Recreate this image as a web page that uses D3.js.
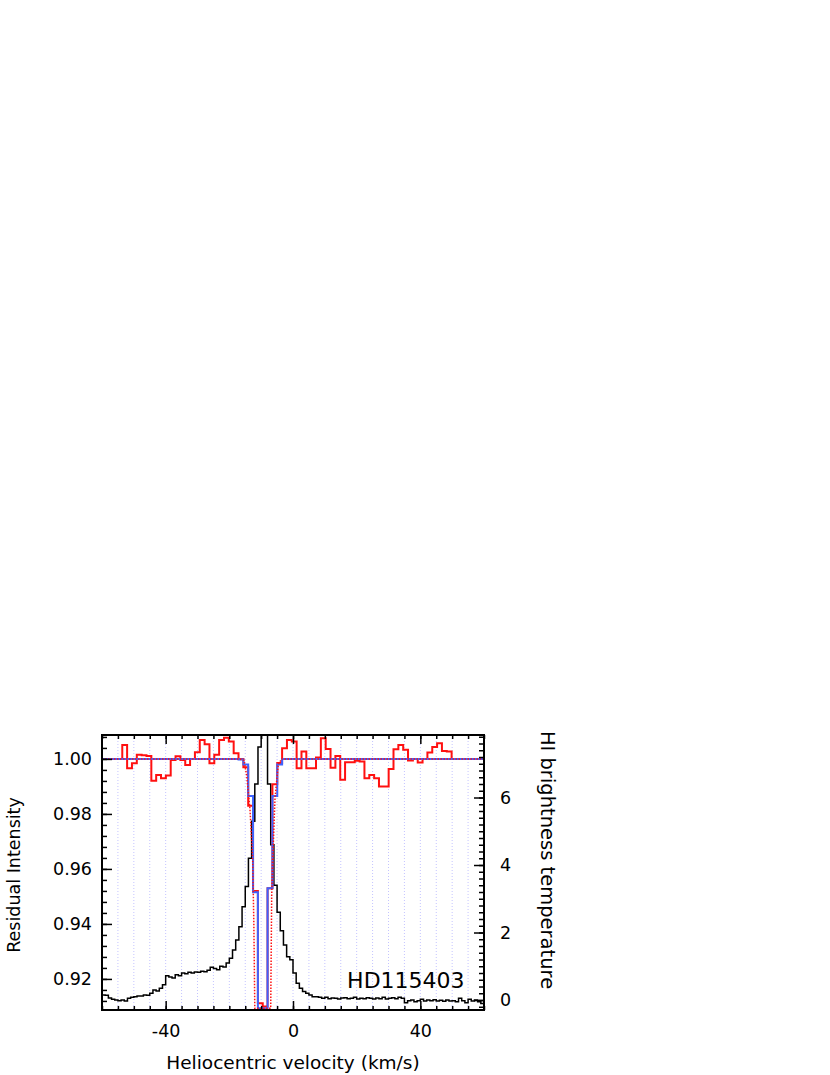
<!DOCTYPE html>
<html>
<head>
<meta charset="utf-8">
<script src="https://cdn.jsdelivr.net/npm/d3@7"></script>
<style>
  body { margin: 0; background: #fff; }
  text { font-family: "DejaVu Sans", sans-serif; }
</style>
</head>
<body>
<svg id="chart" width="830" height="1075"></svg>
<script>
// ---- data ----
const xTickLabels = [-40, 0, 40];
const leftTickLabels = [0.92, 0.94, 0.96, 0.98, 1.00];
const rightTickLabels = [0, 2, 4, 6];
const gridVelocities = [-55, -50, -45, -40, -35, -30, -25, -20, -15, -10, -5, 0, 5, 10, 15, 20, 25, 30, 35, 40, 45, 50, 55];

// HI 21cm profile, 1 km/s channels starting at -60 km/s (brightness temperature, K)
const hiStart = -60, hiWidth = 1.0;
const hiTemp = [
  0.15, 0.14, 0.06, 0.02, 0.00, -0.02, 0.00, -0.03, 0.05, 0.08,
  0.10, 0.12, 0.12, 0.15, 0.14, 0.20, 0.30, 0.27, 0.35, 0.45,
  0.72, 0.68, 0.65, 0.75, 0.72, 0.80, 0.78, 0.82, 0.80, 0.83,
  0.82, 0.85, 0.84, 0.88, 0.97, 0.93, 0.90, 1.00, 0.98, 1.10,
  1.24, 1.48, 1.78, 2.17, 2.76, 3.36, 4.20, 5.30, 6.40, 7.50,
  8.80, 8.50, 6.40, 4.60, 3.40, 2.60, 2.05, 1.63, 1.28, 1.19,
  0.80, 0.50, 0.35, 0.25, 0.20, 0.15, 0.10, 0.10, 0.08, 0.05,
  0.08, 0.04, 0.06, 0.05, 0.03, 0.06, 0.07, 0.04, 0.05, 0.08,
  0.03, 0.05, 0.04, 0.07, 0.05, 0.03, 0.06, 0.04, 0.08, 0.03,
  0.05, 0.07, 0.04, 0.08, 0.05, -0.08, -0.02, 0.00, -0.05, -0.02,
  0.02, -0.03, 0.00, -0.02, 0.01, -0.03, -0.01, -0.04, 0.00, -0.03,
  -0.02, -0.05, 0.05, -0.02, -0.08, 0.02, -0.03, 0.00, -0.05, -0.10
];

// optical spectrum bins (residual intensity)
const binStart = -61.24, binWidth = 1.5215;
const observed = [
  1.0000, 1.0000, 1.0000, 1.0000, 1.0000,
  1.0051, 0.9966, 0.9984, 1.0015, 1.0013, 1.0011, 0.9921, 0.9942, 0.9930, 0.9940,
  0.9996, 1.0010, 0.9996, 0.9978, 1.0000, 1.0024, 1.0069, 1.0053, 0.9984, 1.0015,
  1.0069, 1.0077, 1.0063, 1.0021, 1.0000, 0.9970, 0.9830, 0.9520, 0.9112, 0.9100,
  0.9530, 0.9908, 0.9985, 1.0039, 1.0069, 1.0063, 0.9966, 1.0027, 0.9966, 0.9966,
  1.0005, 1.0075, 1.0036, 0.9968, 1.0011, 0.9924, 0.9988, 0.9988, 0.9993, 0.9991,
  0.9930, 0.9942, 0.9930, 0.9900, 0.9900, 0.9963, 1.0035, 1.0051, 1.0033, 0.9994,
  1.0000, 0.9987, 1.0000, 1.0023, 1.0043, 1.0057, 1.0029, 1.0027,
  1.0000, 1.0000, 1.0000, 1.0000, 1.0000, 1.0000, 1.0000
];
const modelBinned = [
  1, 1, 1, 1, 1,
  1, 1, 1, 1, 1, 1, 1, 1, 1, 1,
  1, 1, 1, 1, 1, 1, 1, 1, 1, 1,
  1, 1, 1, 1, 0.9998, 0.9980, 0.9865, 0.9515, 0.9093, 0.9093,
  0.9530, 0.9865, 0.9980, 1, 1, 1, 1, 1, 1, 1,
  1, 1, 1, 1, 1, 1, 1, 1, 1, 1,
  1, 1, 1, 1, 1, 1, 1, 1, 1, 1,
  1, 1, 1, 1, 1, 1, 1, 1,
  1, 1, 1, 1, 1, 1, 1
];
// unbinned model profile
const modelVel = [-60, -17, -15.4, -14.55, -13.5, -12.66, -12.3, -12.0, -7.0, -6.7, -6.38, -5.66, -4.62, -3.55, 60];
const modelInt = [1, 1, 0.9995, 0.994, 0.9815, 0.963, 0.94, 0.9093, 0.9093, 0.95, 0.963, 0.9855, 0.998, 1, 1];

const starName = "HD115403";

// ---- layout ----
const svg = d3.select("#chart");
const pLeft = 102, pRight = 484, pTop = 735, pBottom = 1010;

const x = d3.scaleLinear().domain([-60, 60]).range([pLeft, pRight]);
const yI = d3.scaleLinear().domain([0.9087, 1.0087]).range([pBottom, pTop]);
const yT = d3.scaleLinear().domain([-0.296, 7.852]).range([pBottom, pTop]);

svg.append("defs").append("clipPath").attr("id", "plotclip")
  .append("rect").attr("x", pLeft).attr("y", pTop)
  .attr("width", pRight - pLeft).attr("height", pBottom - pTop);

const plot = svg.append("g").attr("clip-path", "url(#plotclip)");

// dotted velocity grid
plot.selectAll("line.grid").data(gridVelocities).enter().append("line")
  .attr("class", "grid")
  .attr("x1", d => x(d)).attr("x2", d => x(d))
  .attr("y1", pTop).attr("y2", pBottom)
  .attr("stroke", "#c4c4ff").attr("stroke-width", 1)
  .attr("stroke-dasharray", "1,2");

function stepPoints(start, width, vals) {
  const pts = vals.map((v, i) => [start + i * width, v]);
  pts.push([start + vals.length * width, vals[vals.length - 1]]);
  return pts;
}

const hiLine = d3.line().curve(d3.curveStepAfter)
  .x(d => x(d[0])).y(d => yT(d[1]));
const specLine = d3.line().curve(d3.curveStepAfter)
  .x(d => x(d[0])).y(d => yI(d[1]));
const smoothLine = d3.line()
  .x(d => x(d[0])).y(d => yI(d[1]));

plot.append("path")
  .attr("d", hiLine(stepPoints(hiStart, hiWidth, hiTemp)))
  .attr("fill", "none").attr("stroke", "#000").attr("stroke-width", 1.5);

plot.append("path")
  .attr("d", specLine(stepPoints(binStart, binWidth, observed)))
  .attr("fill", "none").attr("stroke", "#ff1010").attr("stroke-width", 2);

plot.append("path")
  .attr("d", specLine(stepPoints(binStart, binWidth, modelBinned)))
  .attr("fill", "none").attr("stroke", "#3d63ff").attr("stroke-width", 2);

plot.append("path")
  .attr("d", smoothLine(modelVel.map((v, i) => [v, modelInt[i]])))
  .attr("fill", "none").attr("stroke", "#ff1010").attr("stroke-width", 1.5)
  .attr("stroke-dasharray", "1.5,1.5");

// star label
svg.append("text")
  .attr("x", x(17.0)).attr("y", 988)
  .attr("font-size", 22)
  .text(starName);

// ---- axes (ticks inward) ----
function styleAxis(g, size) {
  g.select(".domain").remove();
  g.selectAll("line").attr("stroke", "#000").attr("stroke-width", 1.5);
  g.selectAll("text").attr("font-size", size).attr("fill", "#000")
    .style("font-family", "DejaVu Sans, sans-serif");
}

const minorV = d3.range(-60, 61, 5);
const minorI = d3.range(0.912, 1.0087, 0.004);
const minorT = d3.range(-0.2, 7.85, 0.2);
const plainInt = d => String(d);   // ASCII hyphen for negatives, like the original

svg.append("g").attr("transform", `translate(0,${pBottom})`)
  .call(d3.axisBottom(x).tickValues(minorV).tickSize(-4).tickFormat(""))
  .call(g => styleAxis(g, 17));
svg.append("g").attr("transform", `translate(0,${pBottom})`)
  .call(d3.axisBottom(x).tickValues(xTickLabels).tickSize(-9).tickPadding(15).tickFormat(plainInt))
  .call(g => styleAxis(g, 17.5));

svg.append("g").attr("transform", `translate(0,${pTop})`)
  .call(d3.axisTop(x).tickValues(minorV).tickSize(-4).tickFormat(""))
  .call(g => styleAxis(g, 17));
svg.append("g").attr("transform", `translate(0,${pTop})`)
  .call(d3.axisTop(x).tickValues(xTickLabels).tickSize(-9).tickFormat(""))
  .call(g => styleAxis(g, 17));

svg.append("g").attr("transform", `translate(${pLeft},0)`)
  .call(d3.axisLeft(yI).tickValues(minorI).tickSize(-5).tickFormat(""))
  .call(g => styleAxis(g, 17));
svg.append("g").attr("transform", `translate(${pLeft},0)`)
  .call(d3.axisLeft(yI).tickValues(leftTickLabels).tickSize(-10).tickPadding(10).tickFormat(d3.format(".2f")))
  .call(g => styleAxis(g, 17.5));

svg.append("g").attr("transform", `translate(${pRight},0)`)
  .call(d3.axisRight(yT).tickValues(minorT).tickSize(-5).tickFormat(""))
  .call(g => styleAxis(g, 17));
svg.append("g").attr("transform", `translate(${pRight},0)`)
  .call(d3.axisRight(yT).tickValues(rightTickLabels).tickSize(-10).tickPadding(16).tickFormat(plainInt))
  .call(g => styleAxis(g, 17.5));

// frame
svg.append("rect")
  .attr("x", pLeft).attr("y", pTop)
  .attr("width", pRight - pLeft).attr("height", pBottom - pTop)
  .attr("fill", "none").attr("stroke", "#000").attr("stroke-width", 2);

// axis titles
svg.append("text")
  .attr("x", (pLeft + pRight) / 2).attr("y", 1069)
  .attr("text-anchor", "middle").attr("font-size", 18.5)
  .text("Heliocentric velocity (km/s)");

svg.append("text")
  .attr("transform", `translate(20,875) rotate(-90)`)
  .attr("text-anchor", "middle").attr("font-size", 17.5)
  .text("Residual Intensity");

svg.append("text")
  .attr("transform", `translate(541,860) rotate(90)`)
  .attr("text-anchor", "middle").attr("font-size", 19.5)
  .text("HI brightness temperature");
</script>
</body>
</html>
